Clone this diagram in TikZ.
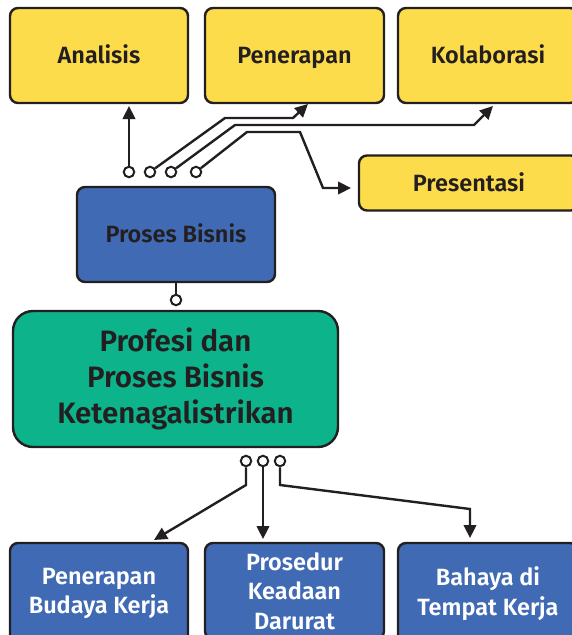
\documentclass[tikz,border=0pt]{standalone}
\usepackage{fontspec}
\setmainfont{Fira Sans}[BoldFont={Fira Sans SemiBold}]
\usetikzlibrary{arrows.meta}
\definecolor{ylw}{HTML}{FDDC4C}
\definecolor{blu}{HTML}{406AB4}
\definecolor{grn}{HTML}{0CB38B}
\definecolor{ink}{HTML}{231F20}
\tikzset{
  box/.style={draw=ink, line width=2.4pt, rounded corners=8pt, inner sep=0pt, align=center, font=\bfseries\fontsize{23.5}{28}\selectfont},
  one/.style={text height=16pt, text depth=0pt},
  ybox/.style={box, one, fill=ylw, text=ink},
  bbox/.style={box, fill=blu},
  lowbox/.style={bbox, text=white, minimum height=100pt, font=\bfseries\fontsize{23.5}{29.5}\selectfont},
  port/.style={circle, draw=ink, fill=white, line width=2pt, minimum size=10.5pt, inner sep=0pt},
  link/.style={draw=ink, line width=2.4pt},
  arr/.style={link, -{Triangle[length=13pt,width=12.5pt]}},
}
\begin{document}
\begin{tikzpicture}[x=1pt,y=-1pt]
\useasboundingbox (0,0) rectangle (571,635);
% top row
\node[ybox, minimum width=178pt, minimum height=95pt] (ana) at (99,55.5) {Analisis};
\node[ybox, minimum width=179pt, minimum height=95pt] (pen) at (294.5,55.5) {Penerapan};
\node[ybox, minimum width=180pt, minimum height=95pt] (kol) at (488,55.5) {Kolaborasi};
\node[ybox, minimum width=220pt, minimum height=55pt] (pre) at (469,183) {Presentasi};
% proses bisnis
\node[bbox, one, text=ink, minimum width=198pt, minimum height=95pt] (pb) at (176,234.5) {Proses Bisnis};
% main
\node[box, fill=grn, text=ink, rounded corners=20pt, minimum width=325pt, minimum height=136pt,
  font=\bfseries\fontsize{29.5}{36}\selectfont] (main) at (175.5,379) {Profesi dan\\Proses Bisnis\\Ketenagalistrikan};
% bottom row
\node[lowbox, minimum width=178pt, minimum height=101pt] (b1) at (99,593.5) {Penerapan\\Budaya Kerja};
\node[lowbox, minimum width=179pt, minimum height=96pt] (b2) at (294.5,591) {Prosedur\\Keadaan\\Darurat};
\node[lowbox, minimum width=180pt, minimum height=101pt] (b3) at (488,593.5) {Bahaya di\\Tempat Kerja};
% ports
\node[port] (p1) at (129,172) {};
\node[port] (p2) at (150,172) {};
\node[port] (p3) at (171,172) {};
\node[port] (p4) at (196,172) {};
\node[port] (pm) at (176,300) {};
\node[port] (q1) at (246,461) {};
\node[port] (q2) at (263,461) {};
\node[port] (q3) at (280,461) {};
% connectors
\coordinate (t1) at (129,106);
\coordinate (t2) at (308,104);
\coordinate (t3) at (493,106);
\coordinate (t4) at (351,188);
\draw[arr] (p1) -- (t1);
\draw[arr] (p2) -- (225,118) -- (293,118) -- (t2);
\draw[arr] (p3) -- (235,125) -- (474,125) -- (t3);
\draw[arr] (p4) -- (247,132) -- (300,132) -- (323,188) -- (t4);
\draw[link] (pb.south) -- (pm);
\coordinate (u1) at (154,540);
\coordinate (u2) at (263,539);
\coordinate (u3) at (470,538);
\draw[arr] (q1) -- (246,485) -- (u1);
\draw[arr] (q2) -- (u2);
\draw[arr] (q3) -- (280,485) -- (470,509) -- (u3);
\end{tikzpicture}
\end{document}
